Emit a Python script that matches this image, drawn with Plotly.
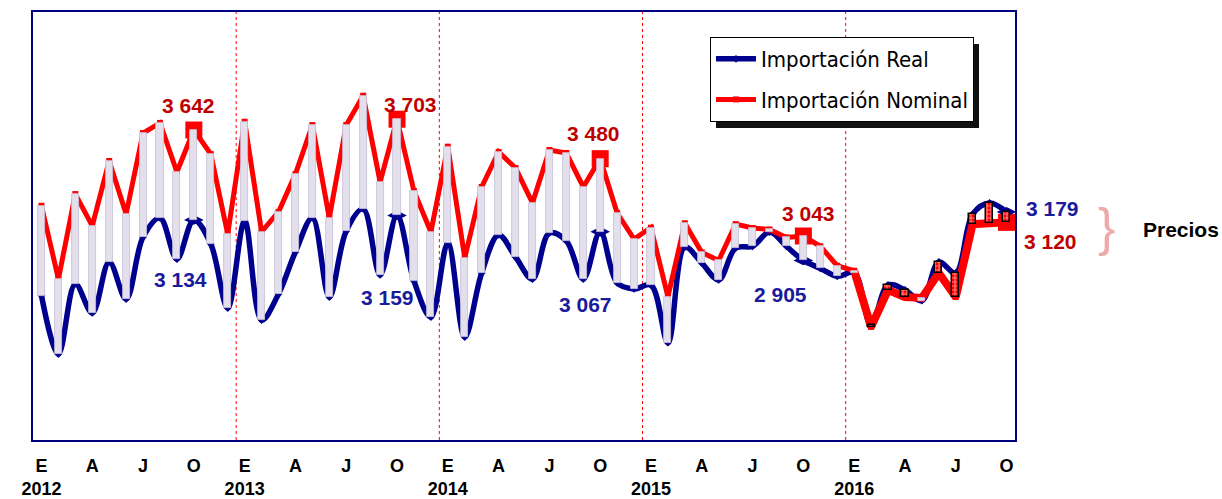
import plotly.graph_objects as go

# ---------------- data ----------------
years = [2012, 2013, 2014, 2015, 2016]
month_letters = ["E", "F", "M", "A", "M", "J", "J", "A", "S", "O", "N", "D"]
tick_month_idx = [0, 3, 6, 9]          # E, A, J, O

real_2012 = [2706, 2376, 2772, 2608, 2896, 2687, 3037, 3145, 2913, 3134, 2998, 2636]
nominal_2012 = [3214, 2800, 3280, 3100, 3467, 3167, 3625, 3682, 3405, 3642, 3506, 3054]
real_2013 = [3128, 2568, 2715, 2953, 3145, 2698, 3071, 3196, 2823, 3159, 2789, 2585]
nominal_2013 = [3689, 3067, 3179, 3393, 3670, 3145, 3670, 3836, 3348, 3703, 3297, 3066]
real_2014 = [3004, 2472, 2834, 3049, 2924, 2800, 3060, 3015, 2800, 3067, 2778, 2744]
nominal_2014 = [3548, 2919, 3320, 3518, 3427, 3230, 3529, 3512, 3320, 3480, 3173, 3026]
real_2015 = [2765, 2440, 2980, 2890, 2795, 2975, 2985, 3065, 2985, 2905, 2860, 2815]
nominal_2015 = [3090, 2700, 3115, 2950, 2905, 3110, 3088, 3080, 3035, 3043, 2985, 2875]
real_2016 = [2836, 2540, 2766, 2738, 2678, 2896, 2834, 3167, 3230, 3179]
nominal_2016 = [2847, 2529, 2738, 2698, 2693, 2834, 2698, 3110, 3115, 3120]

real = real_2012 + real_2013 + real_2014 + real_2015 + real_2016
nominal = nominal_2012 + nominal_2013 + nominal_2014 + nominal_2015 + nominal_2016

n = len(real)
x = list(range(n))
month_of = [month_letters[i % 12] for i in x]
year_of = [years[i // 12] for i in x]
oct_idx = [i for i in x if i % 12 == 9]

tickvals = [i for i in x if i % 12 in tick_month_idx]
ticktext = [(f"{month_of[i]}<br>{year_of[i]}" if i % 12 == 0 else month_of[i]) for i in tickvals]

NAVY = "#00008f"
RED = "#ff0000"
DRED = "#c00000"
DBLUE = "#1a1a9c"
BOLD = "Liberation Sans, Arial, sans-serif"
NARROW = "Liberation Sans Narrow, Arial Narrow, DejaVu Sans Condensed, sans-serif"

fig = go.Figure()

# lines (main subplot)
fig.add_trace(go.Scatter(
    x=x, y=real, name="Importación Real", mode="lines+markers",
    line=dict(color=NAVY, width=5.5, shape="spline", smoothing=1.0),
    marker=dict(symbol="diamond", size=6, color=NAVY),
    legendgroup="r", hoverinfo="skip"))
fig.add_trace(go.Scatter(
    x=x, y=nominal, name="Importación Nominal", mode="lines+markers",
    line=dict(color=RED, width=5),
    marker=dict(symbol="square", size=6, color=RED),
    legendgroup="n", hoverinfo="skip"))
# thicker nominal line in the last year
last = [i for i in x if year_of[i] == years[-1]]
fig.add_trace(go.Scatter(
    x=last, y=[nominal[i] for i in last], mode="lines",
    line=dict(color=RED, width=8), showlegend=False, hoverinfo="skip"))
# highlighted October points
fig.add_trace(go.Scatter(
    x=oct_idx, y=[nominal[i] for i in oct_idx], mode="markers",
    marker=dict(symbol="square", size=17, color=RED),
    showlegend=False, hoverinfo="skip"))
fig.add_trace(go.Scatter(
    x=oct_idx, y=[real[i] for i in oct_idx], mode="markers",
    marker=dict(symbol="diamond-wide", size=14, color=NAVY),
    showlegend=False, hoverinfo="skip"))

# bars between the two series (overlaid subplot so they are drawn on top)
base = [min(r, m) for r, m in zip(real, nominal)]
height = [abs(r - m) for r, m in zip(real, nominal)]
above = [r > m for r, m in zip(real, nominal)]
fig.add_trace(go.Bar(
    x=x, y=height, base=base, width=0.42, xaxis="x2", yaxis="y2",
    marker=dict(
        color=[RED if a else "#e3dfeb" for a in above],
        line=dict(color=["#000000" if a else "#c4bdd6" for a in above],
                  width=[1.5 if a else 0.8 for a in above]),
        pattern=dict(shape=["+" if a else "" for a in above], fgcolor="#ffffff",
                     fillmode="overlay", size=4, solidity=0.5)),
    showlegend=False, hoverinfo="skip"))

# year separators
for k in range(1, len(years)):
    fig.add_shape(type="line", xref="x", yref="paper", x0=12 * k - 0.5, x1=12 * k - 0.5,
                  y0=0, y1=1, line=dict(color=RED, width=1, dash="dot"), layer="below")

# value labels at October points
lab_red_shift = [(-5, 25), (13, 15), (-7, 25), (5, 23), (44, -19)]
lab_blue_shift = [(-13, -60), (-10, -82), (-15, -73), (-23, -34), (46, 3)]
for j, i in enumerate(oct_idx):
    fig.add_annotation(x=i, y=nominal[i], xref="x", yref="y", showarrow=False,
                       text=f"{nominal[i]:,}".replace(",", " "),
                       xshift=lab_red_shift[j][0], yshift=lab_red_shift[j][1],
                       font=dict(family=BOLD, size=21, color=DRED, weight="bold"))
    fig.add_annotation(x=i, y=real[i], xref="x", yref="y", showarrow=False,
                       text=f"{real[i]:,}".replace(",", " "),
                       xshift=lab_blue_shift[j][0], yshift=lab_blue_shift[j][1],
                       font=dict(family=BOLD, size=21, color=DBLUE, weight="bold"))

# bracket and "Precios"
fig.add_annotation(x=(1106 - 33) / 982, y=(440 - 227) / 428, xref="paper", yref="paper",
                   showarrow=False, xanchor="center", yanchor="middle",
                   text="}", font=dict(family="Liberation Sans, sans-serif", size=52, color="#eeaaaa"))
fig.add_annotation(x=(1181 - 33) / 982, y=(440 - 229) / 428, xref="paper", yref="paper",
                   showarrow=False, xanchor="center", yanchor="middle",
                   text="Precios", font=dict(family=BOLD, size=21, color="#000000", weight="bold"))

# legend shadow (offset behind the legend box)
fig.add_shape(type="rect", xref="paper", yref="paper",
              x0=(716 - 33) / 982, x1=(979 - 33) / 982,
              y0=(440 - 128) / 428, y1=(440 - 44) / 428,
              fillcolor="#111111", line=dict(width=0), layer="above")

axis_line = dict(showline=True, mirror=True, linecolor="#00007f", linewidth=2,
                 showgrid=False, zeroline=False)
fig.update_layout(
    width=1222, height=499,
    margin=dict(l=33, r=207, t=12, b=59, autoexpand=False),
    paper_bgcolor="white", plot_bgcolor="white",
    bargap=0,
    xaxis=dict(range=[-0.5, n - 0.5], tickvals=tickvals, ticktext=ticktext, ticks="",
               tickfont=dict(family=BOLD, size=18, color="#000000", weight="bold"),
               ticklabelstandoff=8, automargin=False, **axis_line),
    yaxis=dict(range=[1890, 4309], showticklabels=False, ticks="", automargin=False, **axis_line),
    xaxis2=dict(overlaying="x", matches="x", visible=False),
    yaxis2=dict(overlaying="y", matches="y", visible=False),
    legend=dict(x=(710 - 33) / 982, y=(440 - 37) / 428, xanchor="left", yanchor="top",
                bgcolor="white", bordercolor="#000000", borderwidth=1,
                font=dict(family=NARROW, size=22, color="#000000"),
                tracegroupgap=9, itemwidth=40),
    showlegend=True,
)

fig.write_html("out.html", config={"displayModeBar": False},
               post_script="document.body.style.margin='0';document.body.style.overflow='hidden';")
